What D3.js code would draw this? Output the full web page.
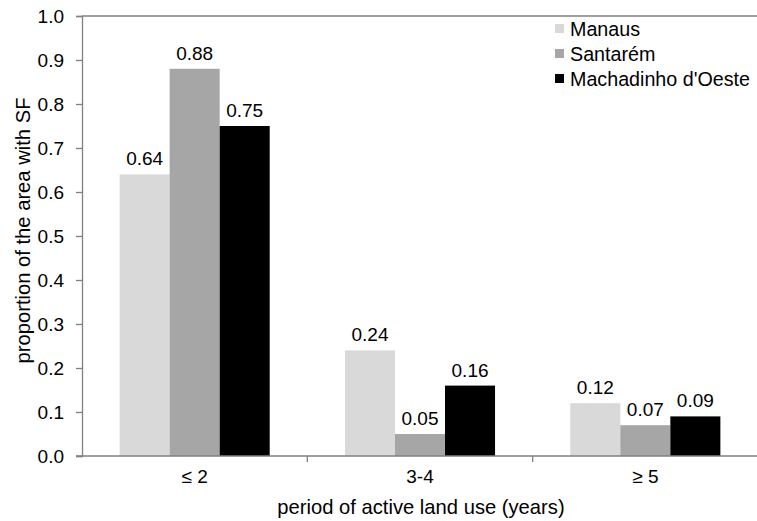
<!DOCTYPE html>
<html><head><meta charset="utf-8">
<script src="https://cdn.jsdelivr.net/npm/d3@7"></script>
<style>body{margin:0;background:#fff}svg{display:block}text{font-family:"Liberation Sans",Arial,sans-serif;fill:#000}</style>
</head><body>
<svg id="chart" width="757" height="521"></svg>
<script>
const categories = ["≤ 2", "3-4", "≥ 5"];
const seriesNames = ["Manaus", "Santarém", "Machadinho d'Oeste"];
const manaus = [0.64, 0.24, 0.12];
const santarem = [0.88, 0.05, 0.07];
const machadinho = [0.75, 0.16, 0.09];
const yTicks = [0, 0.1, 0.2, 0.3, 0.4, 0.5, 0.6, 0.7, 0.8, 0.9, 1.0];
const colors = ["#d9d9d9", "#a6a6a6", "#000000"];

const seriesValues = [manaus, santarem, machadinho];
const svg = d3.select("#chart");
const mLeft = 82, mRight = 758, mTop = 16, mBottom = 456;
const fs = 19, fsTitle = 20.2;

const x0 = d3.scaleBand().domain(categories).range([mLeft, mRight]).padding(0);
const bw = x0.bandwidth();
const groupW = bw * 0.666;
const x1 = d3.scaleBand().domain(seriesNames).range([(bw - groupW) / 2, (bw + groupW) / 2]).padding(0);
const y = d3.scaleLinear().domain([0, 1]).range([mBottom, mTop]);

const axisColor = "#808080";

// top frame line
svg.append("line").attr("x1", mLeft).attr("x2", mRight).attr("y1", y(1)).attr("y2", y(1))
  .attr("stroke", axisColor).attr("stroke-width", 1.3);

// bars
categories.forEach((c, ci) => {
  seriesNames.forEach((s, si) => {
    const v = seriesValues[si][ci];
    svg.append("rect")
      .attr("x", x0(c) + x1(s))
      .attr("y", y(v))
      .attr("width", x1.bandwidth())
      .attr("height", y(0) - y(v))
      .attr("fill", colors[si]);
    svg.append("text")
      .attr("x", x0(c) + x1(s) + x1.bandwidth() / 2)
      .attr("y", y(v) - 9)
      .attr("text-anchor", "middle")
      .attr("font-size", fs)
      .text(v.toFixed(2));
  });
});

// y axis
const yAxis = d3.axisLeft(y).tickValues(yTicks).tickFormat(d3.format(".1f")).tickSize(6).tickPadding(12);
const gy = svg.append("g").attr("transform", `translate(${mLeft},0)`).call(yAxis);
gy.select(".domain").attr("stroke", axisColor).attr("stroke-width", 1.3);
gy.selectAll(".tick line").attr("stroke", axisColor).attr("stroke-width", 1.3);
gy.selectAll(".tick text").attr("font-size", fs).attr("font-family", "Liberation Sans, Arial, sans-serif").attr("fill", "#000");

// x axis
const xAxis = d3.axisBottom(x0).tickSize(0).tickPadding(14);
const gx = svg.append("g").attr("transform", `translate(0,${mBottom})`).call(xAxis);
gx.select(".domain").remove();
gx.append("line").attr("x1", mLeft - 6).attr("x2", mRight).attr("stroke", axisColor).attr("stroke-width", 1.3);
gx.selectAll(".tick text").attr("font-size", fs).attr("font-family", "Liberation Sans, Arial, sans-serif").attr("fill", "#000").attr("dy", "0.71em");
// category boundary ticks
categories.slice(1).forEach(c => {
  gx.append("line").attr("x1", x0(c)).attr("x2", x0(c)).attr("y1", 0).attr("y2", 6)
    .attr("stroke", axisColor).attr("stroke-width", 1.3);
});

// axis titles
svg.append("text").attr("x", 421).attr("y", 514)
  .attr("text-anchor", "middle").attr("font-size", fsTitle).text("period of active land use (years)");
svg.append("text").attr("transform", "rotate(-90)").attr("x", -230.5).attr("y", 30)
  .attr("text-anchor", "middle").attr("font-size", fsTitle).text("proportion of the area with SF");

// legend
const lg = svg.append("g").attr("transform", "translate(555,36)");
seriesNames.forEach((s, i) => {
  lg.append("rect").attr("x", 0).attr("y", i * 25 - 12).attr("width", 9).attr("height", 9).attr("fill", colors[i]);
  lg.append("text").attr("x", 15).attr("y", i * 25).attr("font-size", 19.7).text(s);
});
</script>
</body></html>
